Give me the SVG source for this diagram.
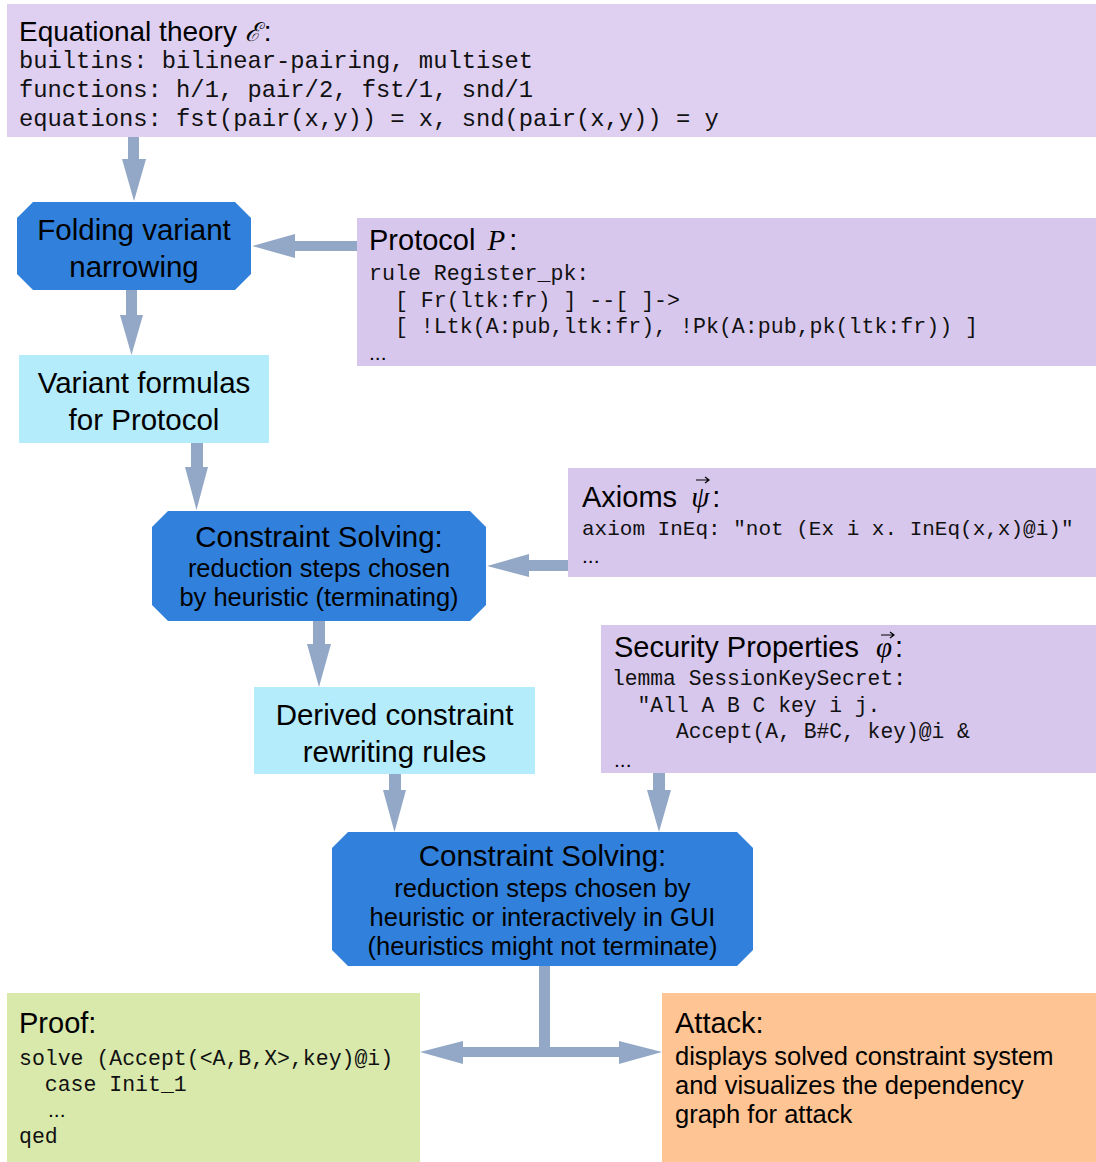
<svg xmlns="http://www.w3.org/2000/svg" width="1096" height="1162" viewBox="0 0 1096 1162">
<style>
.sans{font-family:"Liberation Sans",Arial,Helvetica,sans-serif;fill:#000}
.mono{font-family:"Liberation Mono","Courier New",monospace;fill:#111}
.math{font-family:"Liberation Serif","Times New Roman",serif;font-style:italic;fill:#000}
.h{font-size:29px}
.t{font-size:29.5px}
.s{font-size:25.5px}
.c{text-anchor:middle}
.lav{fill:#d8c7ed}
.lav2{fill:#dfd0f2}
.blue{fill:#3080dc}
.cyan{fill:#b4ecfb}
.arr{fill:#92a8c6}
.vec{fill:none;stroke:#000;stroke-width:1.2}
</style>
<rect width="1096" height="1162" fill="#fff"/>

<g id="connectors">
<polygon class="arr" points="128,136 139,136 139,159 146,159 134,201 122,159 128,159"/>
<polygon class="arr" points="357,241 295,241 295,234 252,246 295,258 295,251 357,251"/>
<polygon class="arr" points="126,290 137,290 137,315 143,315 131.5,355 120,315 126,315"/>
<polygon class="arr" points="191,443 203,443 203,467 208,467 196.5,510 185,467 191,467"/>
<polygon class="arr" points="568,560 529,560 529,554 487,566 529,577 529,571 568,571"/>
<polygon class="arr" points="313,621 325,621 325,644 331,644 319,687 307,644 313,644"/>
<polygon class="arr" points="389,774 401,774 401,790 406,790 394.5,832 383,790 389,790"/>
<polygon class="arr" points="653,773 665,773 665,790 671,790 659,832 647,790 653,790"/>
<polygon class="arr" points="539,966 550,966 550,1047 619,1047 619,1041 662,1052 619,1064 619,1057 463,1057 463,1064 420,1052 463,1041 463,1047 539,1047"/>
</g>

<g id="equational-theory">
<rect class="lav2" x="7" y="4" width="1089" height="133"/>
<text class="sans" x="19" y="41" font-size="28">Equational theory <tspan font-family="DejaVu Serif,serif" font-style="italic" font-size="26">ℰ</tspan><tspan dx="3">:</tspan></text>
<text class="mono" x="19" y="68" font-size="23.8">builtins: bilinear-pairing, multiset</text>
<text class="mono" x="19" y="97" font-size="23.8">functions: h/1, pair/2, fst/1, snd/1</text>
<text class="mono" x="19" y="126" font-size="23.8">equations: fst(pair(x,y)) = x, snd(pair(x,y)) = y</text>
</g>

<g id="folding">
<polygon class="blue" points="33,202 235,202 251,218 251,274 235,290 33,290 17,274 17,218"/>
<text class="sans t c" x="134" y="240">Folding variant</text>
<text class="sans t c" x="134" y="277">narrowing</text>
</g>

<g id="protocol">
<rect class="lav" x="357" y="218" width="739" height="148"/>
<text class="sans h" x="369" y="250">Protocol <tspan class="math" font-size="29" dx="4">P</tspan><tspan dx="4">:</tspan></text>
<text class="mono" x="369" y="280" font-size="21.6" xml:space="preserve">rule Register_pk:</text>
<text class="mono" x="369" y="307" font-size="21.6" xml:space="preserve">  [ Fr(ltk:fr) ] --[ ]-&gt;</text>
<text class="mono" x="369" y="333" font-size="21.6" xml:space="preserve">  [ !Ltk(A:pub,ltk:fr), !Pk(A:pub,pk(ltk:fr)) ]</text>
<text class="sans" x="369" y="360" font-size="21">...</text>
</g>

<g id="variant-formulas">
<rect class="cyan" x="19" y="355" width="250" height="88"/>
<text class="sans t c" x="144" y="393">Variant formulas</text>
<text class="sans t c" x="144" y="430">for Protocol</text>
</g>

<g id="axioms">
<rect class="lav" x="568" y="468" width="528" height="109"/>
<text class="sans h" x="582" y="507">Axioms <tspan class="math" font-size="29" dx="6">ψ</tspan><tspan dx="3">:</tspan></text>
<path class="vec" d="M696,480 H709 M705,477 L709,480 L705,483"/>
<text class="mono" x="582" y="535" font-size="21">axiom InEq: "not (Ex i x. InEq(x,x)@i)"</text>
<text class="sans" x="582" y="563" font-size="21">...</text>
</g>

<g id="constraint-solving-1">
<polygon class="blue" points="168,511 470,511 486,527 486,605 470,621 168,621 152,605 152,527"/>
<text class="sans t c" x="319" y="547">Constraint Solving:</text>
<text class="sans s c" x="319" y="577">reduction steps chosen</text>
<text class="sans s c" x="319" y="606">by heuristic (terminating)</text>
</g>

<g id="security-properties">
<rect class="lav" x="601" y="625" width="495" height="148"/>
<text class="sans h" x="614" y="657">Security Properties <tspan class="math" font-size="29" dx="9">φ</tspan><tspan dx="3">:</tspan></text>
<path class="vec" d="M881,635 H894 M890,632 L894,635 L890,638"/>
<text class="mono" x="612" y="685" font-size="21.3" xml:space="preserve">lemma SessionKeySecret:</text>
<text class="mono" x="612" y="712" font-size="21.3" xml:space="preserve">  "All A B C key i j.</text>
<text class="mono" x="612" y="738" font-size="21.3" xml:space="preserve">     Accept(A, B#C, key)@i &amp;</text>
<text class="sans" x="614" y="767" font-size="21">...</text>
</g>

<g id="derived-rules">
<rect class="cyan" x="254" y="687" width="281" height="87"/>
<text class="sans t c" x="394.5" y="725">Derived constraint</text>
<text class="sans t c" x="394.5" y="762">rewriting rules</text>
</g>

<g id="constraint-solving-2">
<polygon class="blue" points="348,832 737,832 753,848 753,950 737,966 348,966 332,950 332,848"/>
<text class="sans t c" x="542.5" y="866">Constraint Solving:</text>
<text class="sans s c" x="542.5" y="897">reduction steps chosen by</text>
<text class="sans s c" x="542.5" y="926">heuristic or interactively in GUI</text>
<text class="sans s c" x="542.5" y="955">(heuristics might not terminate)</text>
</g>

<g id="proof">
<rect x="7" y="993" width="413" height="169" fill="#d8e9ab"/>
<text class="sans h" x="19" y="1033">Proof:</text>
<text class="mono" x="19" y="1065" font-size="21.5" xml:space="preserve">solve (Accept(&lt;A,B,X&gt;,key)@i)</text>
<text class="mono" x="19" y="1091" font-size="21.5" xml:space="preserve">  case Init_1</text>
<text class="sans" x="48" y="1117" font-size="21">...</text>
<text class="mono" x="19" y="1143" font-size="21.5">qed</text>
</g>

<g id="attack">
<rect x="662" y="993" width="434" height="169" fill="#ffc494"/>
<text class="sans h" x="675" y="1033">Attack:</text>
<text class="sans s" x="675" y="1065">displays solved constraint system</text>
<text class="sans s" x="675" y="1094">and visualizes the dependency</text>
<text class="sans s" x="675" y="1123">graph for attack</text>
</g>
</svg>
